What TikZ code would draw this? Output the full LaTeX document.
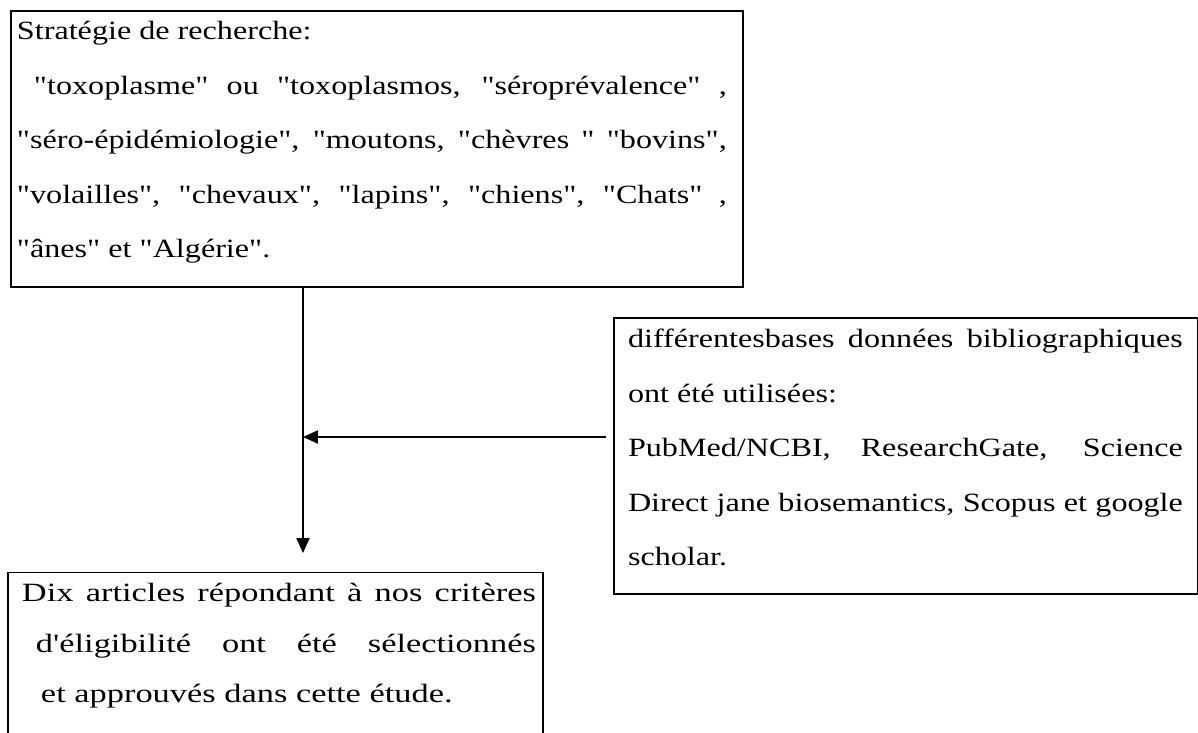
\documentclass[tikz,border=0pt]{standalone}
\usepackage{fontspec}
\setmainfont{Liberation Serif}[FakeStretch=1.22,Ligatures={TeXOff,CommonOff}]
\newfontfamily\dixfont{Liberation Serif}[FakeStretch=1.305,Ligatures={TeXOff,CommonOff}]
\usetikzlibrary{arrows.meta}

\tikzset{
  cadre/.style={draw,anchor=north west,inner xsep=0pt,inner ysep=0pt},
}
\newcommand{\haut}[1]{\rule{0pt}{#1}}
\newcommand{\bas}[1]{\rule[-#1]{0pt}{#1}}
\newcommand{\texte}[3]{\fontsize{15pt}{#1}\selectfont\leftskip=#2\rightskip=#3\hyphenpenalty=10000
  \spaceskip=\fontdimen2\font plus 4\fontdimen2\font minus .3\fontdimen2\font\relax}

\begin{document}
\begin{tikzpicture}[x=0.02cm,y=-0.02cm,line width=0.04cm,>={Triangle[width=0.26cm,length=0.3cm]}]
  \clip (0,0) rectangle (1198,733);
  \fill[white] (0,0) rectangle (1198,733);

  \node[cadre,text width=14.64cm] (strat) at (10,10) {\texte{31pt}{0.12cm}{0.32cm}%
    \haut{0.58cm}Stratégie de recherche:\\
    \hspace*{0.34cm}"toxoplasme" ou "toxoplasmos, "séroprévalence" ,\linebreak
    "séro-épidémiologie", "moutons, "chèvres " "bovins",\linebreak
    "volailles", "chevaux", "lapins", "chiens", "Chats" ,\linebreak
    "ânes" et "Algérie".\bas{0.58cm}\par};

  \node[cadre,text width=11.68cm] (bases) at (613,317) {\texte{31pt}{0.28cm}{0.3cm}%
    \haut{0.6cm}différentesbases données bibliographiques\linebreak
    ont été utilisées:\par
    PubMed/NCBI, ResearchGate, Science\linebreak
    Direct jane biosemantics, Scopus et google\linebreak
    scholar.\bas{0.56cm}\par};

  \node[cadre,text width=10.7cm] (dix) at (7,571.5) {\dixfont\texte{28.7pt}{0.28cm}{0.14cm}%
    \haut{0.59cm}Dix articles répondant à nos critères\linebreak
    \hspace*{0.28cm}d'éligibilité ont été sélectionnés\linebreak
    \hspace*{0.38cm}et approuvés dans cette étude.\bas{0.9cm}\par};

  \coordinate (jn) at (303,437);
  \draw[->,shorten >=0.37cm] (strat.south -| jn) -- (dix.north -| jn);
  \draw[->,shorten <=0.14cm] (bases.west |- jn) -- (jn);
\end{tikzpicture}
\end{document}
